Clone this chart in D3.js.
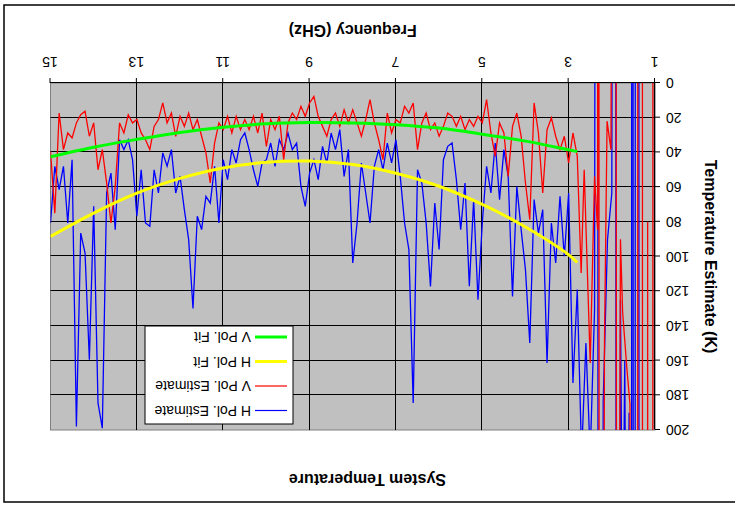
<!DOCTYPE html>
<html>
<head>
<meta charset="utf-8">
<script src="https://cdn.jsdelivr.net/npm/d3@7"></script>
<style>
  body { margin: 0; background: #fff; }
  text { font-family: "Liberation Sans", Arial, sans-serif; }
</style>
</head>
<body>
<div id="chart"></div>
<script>
// Frequency grid (GHz), read right-to-left off the picture, 15 -> 3.5
const freqMain = [15.0,14.9,14.8,14.7,14.6,14.5,14.4,14.3,14.2,14.1,14.0,13.9,13.8,13.7,13.6,13.5,13.4,13.3,13.2,13.1,13.0,12.9,12.8,
  12.7,12.6,12.5,12.4,12.3,12.2,12.1,12.0,11.9,11.8,11.7,11.6,11.5,11.4,11.3,11.2,11.1,11.0,10.9,10.8,10.7,10.6,10.5,10.4,
  10.3,10.2,10.1,10.0,9.9,9.8,9.7,9.6,9.5,9.4,9.3,9.2,9.1,9.0,8.9,8.8,8.7,8.6,8.5,8.4,8.3,8.2,8.1,
  8.0,7.9,7.8,7.7,7.6,7.5,7.4,7.3,7.2,7.1,7.0,6.9,6.8,6.7,6.6,6.5,6.4,6.3,6.2,6.1,6.0,5.9,5.8,
  5.7,5.6,5.5,5.4,5.3,5.2,5.1,5.0,4.9,4.8,4.7,4.6,4.5,4.4,4.3,4.2,4.1,4.0,3.9,3.8,3.7,3.6,3.5];

// H Pol. Estimate (K) on freqMain
const hPolMain = [80.7,48,61.5,48,80.7,44.2,198,86.5,98,159.5,71,184.4,199,63.4,51.9,84.5,32.7,38.4,32.7,44.2,76.8,50,80.7,
  82.6,50,63.4,40.3,48,38.4,63.4,53.8,73,90.3,130,76.8,84.5,65.3,69.2,48,80.7,44.2,55.7,38.4,46.1,32.7,28.8,38.4,
  50,59.6,46.1,44.2,34.6,48,32.7,38.4,28.8,38.4,34.6,59.6,71.1,51.9,44.2,55.7,36.5,46.1,28.8,38.4,26.9,53.8,38.4,
  103.7,80.7,46.1,63.4,80.7,48,38.4,50,34.6,46.1,32.7,53.8,80.7,96,184.4,50,57.6,80.7,117.2,69.2,96,44.2,36.5,
  34.6,55.7,84.5,57.6,117.2,67.2,124.9,80.7,48,63.4,34.6,67.2,38.4,53.8,123,59.6,84.5,107.6,149.9,67.2,86.5,73,161.4];

// V Pol. Estimate (K) on freqMain
const vPolMain = [39.4,75,17.3,38.4,28.8,31.7,23,18.3,16.3,30.7,23,50,38.4,57.6,80.7,59.6,23,28.8,18.3,23,21,28.8,32.7,
  38.4,25,21.1,11.5,23,17.3,30.7,19.2,25,17.3,26.9,21.1,30.7,40.3,57.6,34.6,23,26.9,19.2,28.8,19.2,26.9,21.1,26.9,
  19.2,28.8,17.3,36.5,21.1,26.9,19.2,44.2,23,17.3,21.1,13.4,19.2,11.5,7.7,19.2,25,30.7,21.1,17.3,25,15.4,23,
  15.4,23,30.7,21.1,9.6,23,32.7,44.2,17.3,28.8,21.1,23,13.4,17.3,11.5,38.4,23,17.3,26.9,23,30.7,25,17.3,
  19.2,25,19.2,26.9,21.1,25,19.2,23,9.6,28.8,42.3,23,28.8,53.8,25,17.3,30.7,57.6,78.8,11.5,28.8,63.4,26.9];

// Low band (3.4 -> 1 GHz), values run far off scale there
const freqLowH = [3.4,3.3,3.2,3.1,3.0,2.9,2.8,2.7,2.6,2.5,2.4,2.34,2.3,2.25,2.2,2.1,2.0,1.93,1.88,1.8,1.75,1.7,1.65,1.6,1.55,1.53,1.47,1.45,1.38,1.36,1.0];
const hPolLow = [80.7,103.7,65.3,99.9,63.4,172.9,119.1,215,149.9,215,130.6,-1000,1500,1500,184,90.3,63.4,-1000,1200,125,300,160,400,190,1500,-1500,2500,-1500,-1500,2500,2500];

const freqLowV = [3.4,3.3,3.2,3.1,3.0,2.9,2.8,2.71,2.64,2.5,2.4,2.33,2.31,2.28,2.17,2.11,2.02,1.92,1.88,1.8,1.75,1.65,1.58,1.52,1.41,1.39,1.3,1.28,1.19,1.17,1.15,1.06,1.04,1.0];
const vPolLow = [20,30.7,38.4,30.7,46.1,28.8,42.3,109.5,50,161.4,53.8,84.5,-800,1200,149.9,22,38.4,-800,700,90,132,165,185,2500,2500,-2000,-2000,2500,2500,80,2500,2500,-2000,-2000];

// Polynomial fits
const fitFreq = [2.8,3,4,5,6,7,8,9,10,11,12,13,14,15];
const hFit = [103.5,99,83,70,59.5,52,47,45,45.7,49,55,63.5,75,88.5];
const vFit = [39.5,38.5,33.5,29.5,26,24,23,22.8,23.5,25.5,28.5,32.5,37,42.5];

const xTicks = [1,3,5,7,9,11,13,15];
const yTicks = [0,20,40,60,80,100,120,140,160,180,200];

const legendItems = [
  {label: "H Pol. Estimate", color: "#0000ff", w: 1.2},
  {label: "V Pol. Estimate", color: "#ff0000", w: 1.2},
  {label: "H Pol. Fit", color: "#ffff00", w: 3},
  {label: "V Pol. Fit", color: "#00ff00", w: 3}
];

const W = 735, H = 506;
const plot = {left: 80, right: 684.5, top: 76, bottom: 423};

const svg = d3.select("#chart").append("svg")
  .attr("width", W).attr("height", H);

// whole chart is shown upside down
const root = svg.append("g")
  .attr("transform", `rotate(180 ${W / 2} ${H / 2})`);

root.append("rect")
  .attr("x", -5).attr("y", 4)
  .attr("width", 736).attr("height", 497)
  .attr("fill", "#fff").attr("stroke", "#000").attr("stroke-width", 1.5);

const x = d3.scaleLinear().domain([1, 15]).range([plot.left, plot.right]);
const y = d3.scaleLinear().domain([0, 200]).range([plot.bottom, plot.top]);

root.append("defs").append("clipPath").attr("id", "clip")
  .append("rect")
  .attr("x", plot.left).attr("y", plot.top)
  .attr("width", plot.right - plot.left).attr("height", plot.bottom - plot.top);

// plot background
root.append("rect")
  .attr("x", plot.left).attr("y", plot.top)
  .attr("width", plot.right - plot.left).attr("height", plot.bottom - plot.top)
  .attr("fill", "#c0c0c0").attr("stroke", "#808080").attr("stroke-width", 1);

// grid
root.append("g").selectAll("line")
  .data(yTicks.slice(1, -1))
  .join("line")
  .attr("x1", plot.left).attr("x2", plot.right)
  .attr("y1", d => Math.round(y(d)) + 0.5).attr("y2", d => Math.round(y(d)) + 0.5)
  .attr("stroke", "#000").attr("stroke-width", 1);

root.append("g").selectAll("line")
  .data(xTicks.slice(1, -1))
  .join("line")
  .attr("x1", d => Math.round(x(d)) + 0.5).attr("x2", d => Math.round(x(d)) + 0.5)
  .attr("y1", plot.top).attr("y2", plot.bottom)
  .attr("stroke", "#000").attr("stroke-width", 1);

const data = root.append("g").attr("clip-path", "url(#clip)");

const lineOf = d3.line().x(d => x(d[0])).y(d => y(d[1]));
const smooth = d3.line().x(d => x(d[0])).y(d => y(d[1])).curve(d3.curveCatmullRom);

const hSeries = freqMain.map((f, i) => [f, hPolMain[i]]).concat(freqLowH.map((f, i) => [f, hPolLow[i]]));
const vSeries = freqMain.map((f, i) => [f, vPolMain[i]]).concat(freqLowV.map((f, i) => [f, vPolLow[i]]));

data.append("path").datum(hSeries)
  .attr("fill", "none").attr("stroke", "#0000ff").attr("stroke-width", 1.3)
  .attr("d", lineOf);

data.append("path").datum(vSeries)
  .attr("fill", "none").attr("stroke", "#ff0000").attr("stroke-width", 1.3)
  .attr("d", lineOf);

data.append("path").datum(fitFreq.map((f, i) => [f, hFit[i]]))
  .attr("fill", "none").attr("stroke", "#ffff00").attr("stroke-width", 3)
  .attr("d", smooth);

data.append("path").datum(fitFreq.map((f, i) => [f, vFit[i]]))
  .attr("fill", "none").attr("stroke", "#00ff00").attr("stroke-width", 3)
  .attr("d", smooth);

// axes
const xAxis = root.append("g")
  .attr("transform", `translate(0,${plot.bottom})`)
  .call(d3.axisBottom(x).tickValues(xTicks).tickSize(5).tickPadding(11).tickSizeOuter(0));
const yAxis = root.append("g")
  .attr("transform", `translate(${plot.left},0)`)
  .call(d3.axisLeft(y).tickValues(yTicks).tickSize(5).tickPadding(6).tickSizeOuter(0));

[xAxis, yAxis].forEach(ax => {
  ax.select(".domain").attr("stroke", "#000").attr("stroke-width", 1.2);
  ax.selectAll(".tick line").attr("stroke", "#000");
  ax.selectAll("text")
    .attr("fill", "#000")
    .style("font-family", "'Liberation Sans', Arial, sans-serif")
    .style("font-size", "14px");
});

// titles
root.append("text")
  .attr("x", W / 2).attr("y", 32)
  .attr("text-anchor", "middle")
  .style("font-size", "16px").style("font-weight", "bold")
  .text("System Temperature");

root.append("text")
  .attr("x", (plot.left + plot.right) / 2).attr("y", 481)
  .attr("text-anchor", "middle")
  .style("font-size", "16px").style("font-weight", "bold")
  .text("Frequency (GHz)");

root.append("text")
  .attr("transform", `translate(30,${(plot.top + plot.bottom) / 2}) rotate(-90)`)
  .attr("text-anchor", "middle")
  .style("font-size", "16px").style("font-weight", "bold")
  .text("Temperature Estimate (K)");

// legend
const legend = root.append("g");
legend.append("rect")
  .attr("x", 442).attr("y", 82)
  .attr("width", 148).attr("height", 98)
  .attr("fill", "#fff").attr("stroke", "#000").attr("stroke-width", 1);

const items = legend.selectAll("g.item")
  .data(legendItems)
  .join("g")
  .attr("class", "item")
  .attr("transform", (d, i) => `translate(0,${95.5 + i * 24.5})`);

items.append("line")
  .attr("x1", 448).attr("x2", 480)
  .attr("stroke", d => d.color).attr("stroke-width", d => d.w);

items.append("text")
  .attr("x", 484).attr("y", 5)
  .style("font-size", "14px")
  .text(d => d.label);
</script>
</body>
</html>
